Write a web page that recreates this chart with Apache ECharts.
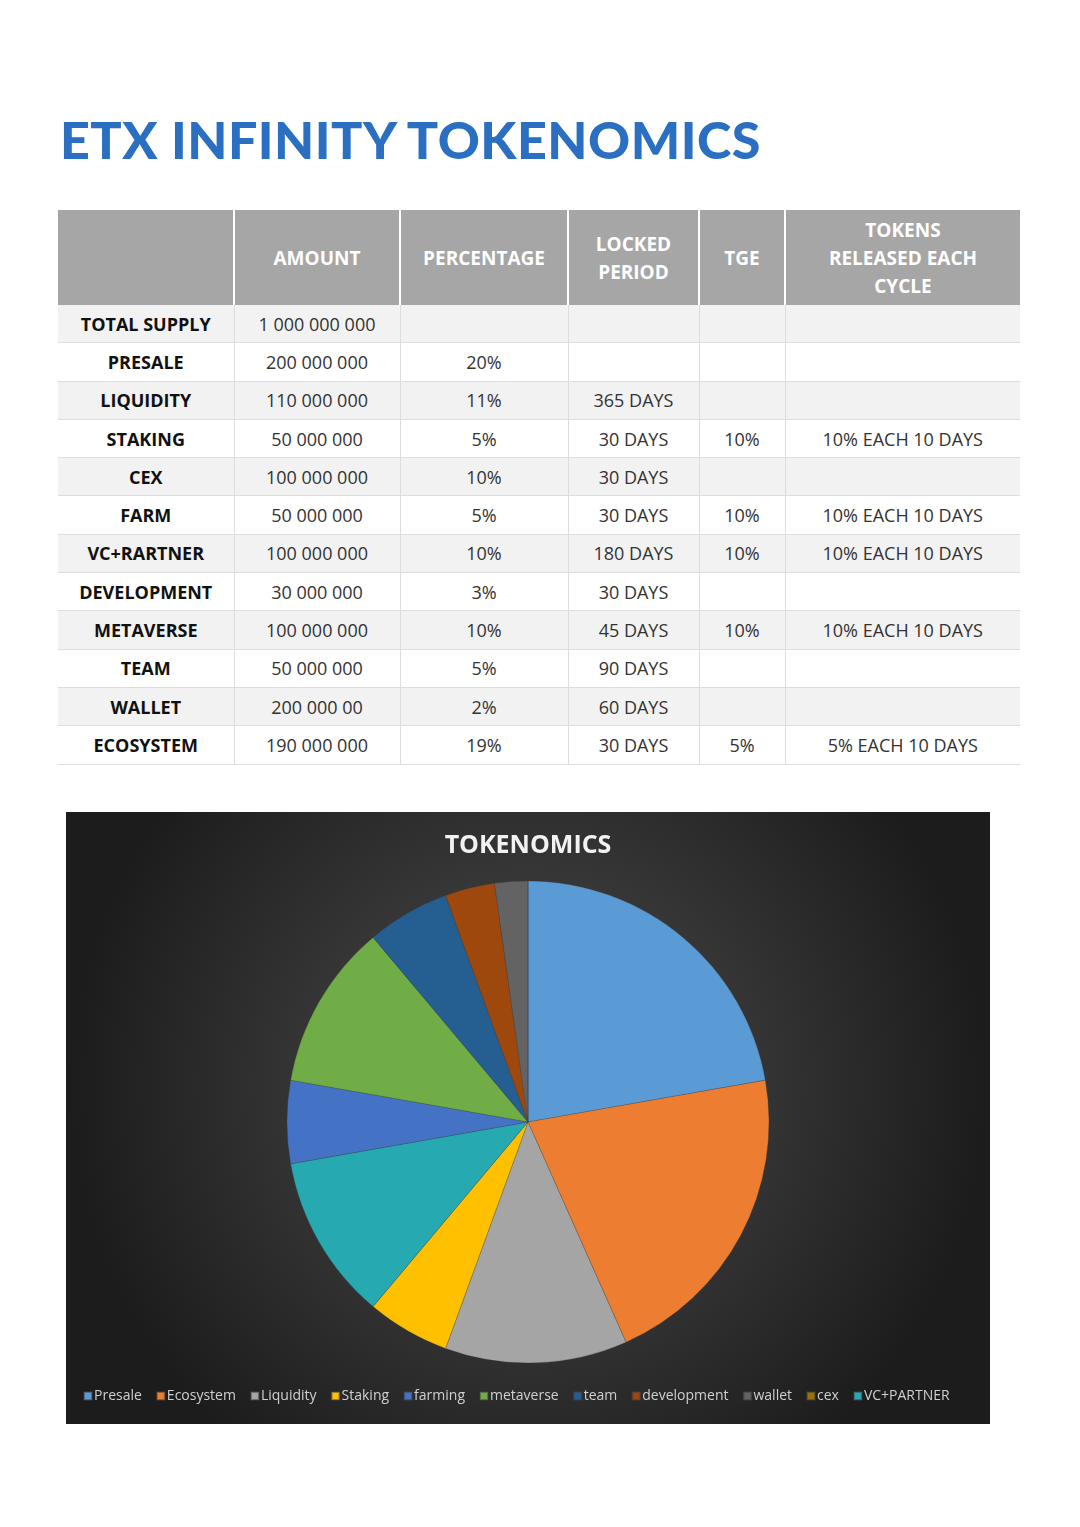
<!DOCTYPE html>
<html>
<head>
<meta charset="utf-8">
<script src="https://cdn.jsdelivr.net/npm/echarts@6/dist/echarts.min.js"></script>
<style>
  body { margin: 0; background: #fff; font-family: "Open Sans", sans-serif; }
  h1 { position: absolute; left: 60px; top: 108px; margin: 0; font-family: Lato, "Open Sans", sans-serif;
       font-weight: 900; font-size: 52px; color: #2a6fc2; letter-spacing: 0.5px; }
  table { position: absolute; left: 58px; top: 210px; width: 962px; border-collapse: collapse; table-layout: fixed; }
  th { background: #a6a6a6; color: #fff; font-weight: 700; font-size: 19px; height: 93px;
       border-left: 2px solid #fff; line-height: 28px; }
  th:first-child { border-left: none; }
  td { height: 37.3px; font-size: 18px; color: #333; text-align: center; padding: 0;
       border: 1px solid #ddd; border-top: none; }
  td:first-child { font-weight: 700; color: #111; border-left: none; }
  td:last-child { border-right: none; }
  tr:nth-child(odd) td { background: #f2f2f2; }
  #chart { position: absolute; left: 66px; top: 812px; width: 924px; height: 612px; }
</style>
</head>
<body>
<h1>ETX INFINITY TOKENOMICS</h1>
<table id="tbl">
  <colgroup><col style="width:176px"><col style="width:166px"><col style="width:168px"><col style="width:131px"><col style="width:86px"><col style="width:235px"></colgroup>
  <thead><tr><th></th><th>AMOUNT</th><th>PERCENTAGE</th><th>LOCKED<br>PERIOD</th><th>TGE</th><th>TOKENS<br>RELEASED EACH<br>CYCLE</th></tr></thead>
  <tbody></tbody>
</table>
<div id="chart"></div>
<script>
// table rows
const rowNames = ["TOTAL SUPPLY", "PRESALE", "LIQUIDITY", "STAKING", "CEX", "FARM", "VC+RARTNER", "DEVELOPMENT", "METAVERSE", "TEAM", "WALLET", "ECOSYSTEM"];
const amounts = ["1 000 000 000", "200 000 000", "110 000 000", "50 000 000", "100 000 000", "50 000 000", "100 000 000", "30 000 000", "100 000 000", "50 000 000", "200 000 00", "190 000 000"];
const percents = ["", "20%", "11%", "5%", "10%", "5%", "10%", "3%", "10%", "5%", "2%", "19%"];
const locked = ["", "", "365 DAYS", "30 DAYS", "30 DAYS", "30 DAYS", "180 DAYS", "30 DAYS", "45 DAYS", "90 DAYS", "60 DAYS", "30 DAYS"];
const tge = ["", "", "", "10%", "", "10%", "10%", "", "10%", "", "", "5%"];
const released = ["", "", "", "10% EACH 10 DAYS", "", "10% EACH 10 DAYS", "10% EACH 10 DAYS", "", "10% EACH 10 DAYS", "", "", "5% EACH 10 DAYS"];

// pie (in drawing order, clockwise from top)
const sliceNames = ["Presale", "Ecosystem", "Liquidity", "Staking", "VC+PARTNER", "farming", "metaverse", "team", "development", "wallet", "cex"];
const sliceValues = [20, 19, 11, 5, 10, 5, 10, 5, 3, 2, 0];
const sliceColors = ["#5b9bd5", "#ed7d31", "#a5a5a5", "#ffc000", "#26a9b0", "#4472c4", "#70ad47", "#255e91", "#9e480e", "#636363", "#997300"];
const legendOrder = ["Presale", "Ecosystem", "Liquidity", "Staking", "farming", "metaverse", "team", "development", "wallet", "cex", "VC+PARTNER"];

const tbody = document.querySelector("#tbl tbody");
rowNames.forEach(function (n, i) {
  const tr = document.createElement("tr");
  [n, amounts[i], percents[i], locked[i], tge[i], released[i]].forEach(function (v) {
    const td = document.createElement("td");
    td.textContent = v;
    tr.appendChild(td);
  });
  tbody.appendChild(tr);
});

const chart = echarts.init(document.getElementById("chart"));
chart.setOption({
  backgroundColor: {
    type: "radial", x: 0.5, y: 0.45, r: 0.75,
    colorStops: [{ offset: 0, color: "#4d4d4d" }, { offset: 1, color: "#1c1c1c" }]
  },
  title: {
    text: "TOKENOMICS", left: "center", top: 16,
    textStyle: { color: "#f2f2f2", fontSize: 25, fontWeight: 700, fontFamily: "Open Sans", letterSpacing: 1 }
  },
  legend: {
    data: legendOrder, bottom: 16, left: 12, itemGap: 14, itemWidth: 8, itemHeight: 8, icon: "rect",
    textStyle: { color: "#d0d0d0", fontSize: 14, fontFamily: "Open Sans", padding: [0, 0, 0, -3] },
    formatter: function (n) { return n; }
  },
  series: [{
    type: "pie",
    center: [462, 310],
    radius: 241,
    startAngle: 90,
    clockwise: true,
    label: { show: false },
    labelLine: { show: false },
    emphasis: { disabled: true },
    itemStyle: { borderColor: "rgba(60,60,60,0.5)", borderWidth: 0.5 },
    data: sliceNames.map(function (n, i) {
      return { name: n, value: sliceValues[i], itemStyle: { color: sliceColors[i] } };
    })
  }]
});
</script>
</body>
</html>
